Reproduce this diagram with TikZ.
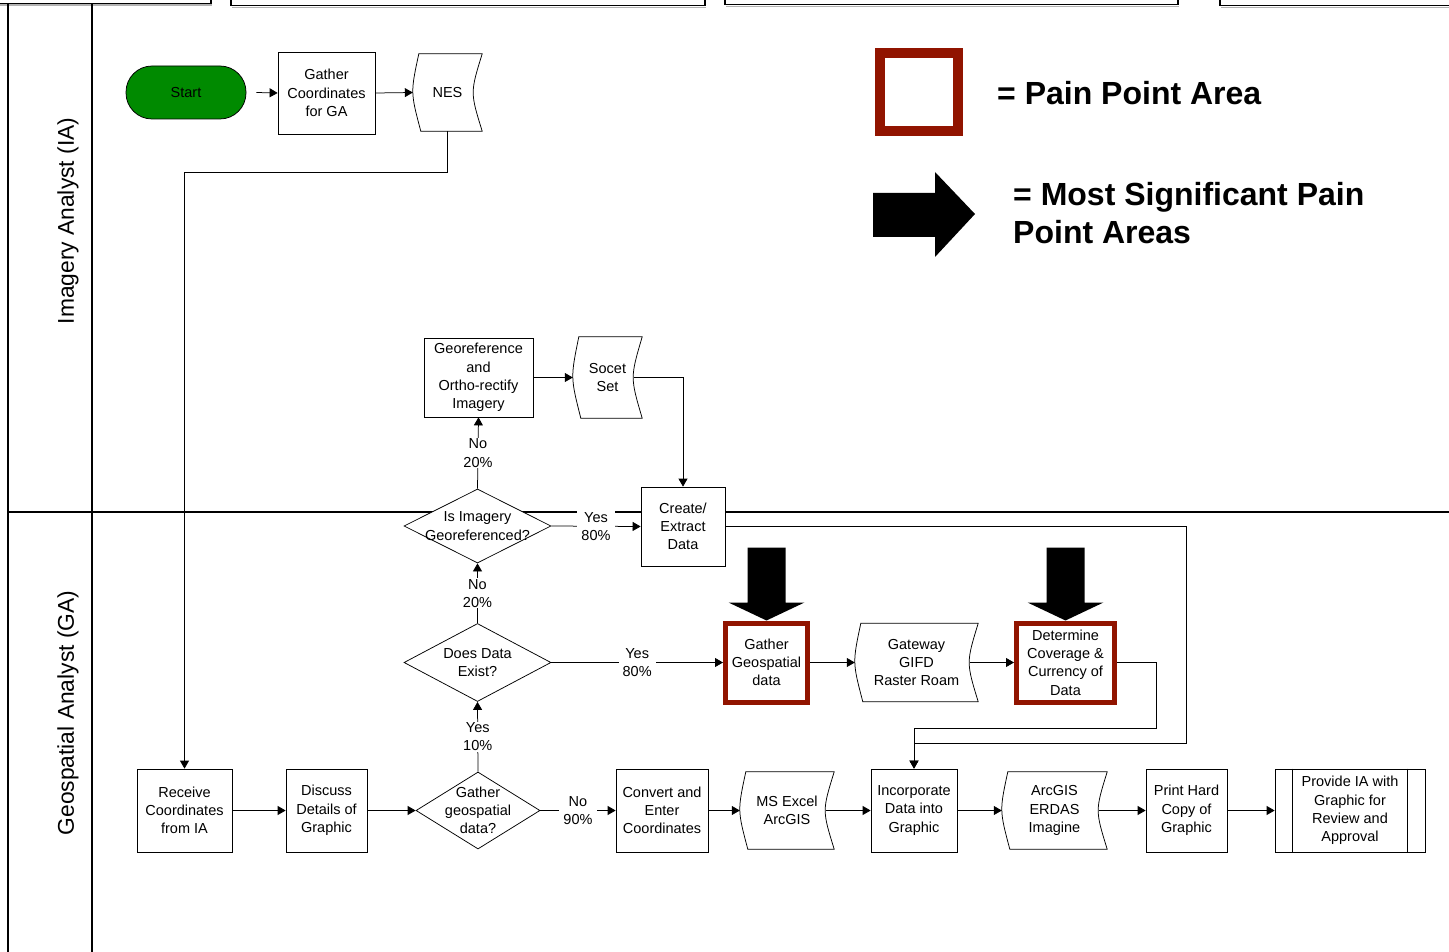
\documentclass[tikz,border=0pt]{standalone}
\usepackage{fontspec}
\setmainfont{Liberation Sans}
\usetikzlibrary{shapes.geometric,arrows.meta,calc,backgrounds}
\definecolor{painred}{RGB}{145,20,0}
\definecolor{startgreen}{RGB}{0,138,0}
\newcommand\wavyshape[1]{%
  \draw[line width=0.75pt, fill=white] ($(#1.north west)+(6,0)$) -- (#1.north east)
    .. controls ($(#1.east)+(-12,0)$) .. (#1.south east)
    -- ($(#1.south west)+(8,0)$)
    .. controls ($(#1.west)+(-2.3,0)$) .. ($(#1.north west)+(6,0)$) -- cycle;}
\newcommand\painarrow[1]{%
  \fill ($(#1.north)+(-19,-73)$) -- ($(#1.north)+(19,-73)$) -- ($(#1.north)+(19,-18)$)
    -- ($(#1.north)+(38,-18)$) -- (#1.north) -- ($(#1.north)+(-38,-18)$)
    -- ($(#1.north)+(-19,-18)$) -- cycle;}
\begin{document}
\begin{tikzpicture}[x=1pt,y=-1pt,
  every node/.style={font=\fontsize{14.5}{18.3}\selectfont, align=center, inner sep=0pt},
  box/.style={draw, fill=white, line width=0.75pt},
  pain/.style={draw=painred, fill=white, line width=5pt},
  wavy/.style={},
  decide/.style={draw, fill=white, line width=0.75pt, diamond, inner sep=0pt},
  arr/.style={-{Triangle[length=8pt,width=9pt]}, line width=0.75pt},
  conn/.style={line width=0.75pt},
  lbl/.style={fill=white, inner xsep=4pt, inner ysep=1pt},
  lane/.style={line width=1.1pt},
  topbox/.style={draw, line width=1.4pt},
  lanelabel/.style={rotate=90, font=\fontsize{22.8}{27}\selectfont},
  legend/.style={font=\bfseries\fontsize{32}{38}\selectfont, align=left}
]
\useasboundingbox (0,0) rectangle (1449,952);

% top partial boxes
\draw[gray!60, line width=1.2pt] (-5,5) -- (212,5) (232,7.5) -- (706,7.5) (726,6.5) -- (1179,6.5) (1221,7.5) -- (1460,7.5);
\draw[topbox] (-5,-20) rectangle (211,3.5);
\draw[topbox] (231,-20) rectangle (705,5.5);
\draw[topbox] (725,-20) rectangle (1178,4.5);
\draw[topbox] (1220,-20) rectangle (1460,5.5);

% lanes
\coordinate (laneTL) at (8,4);
\coordinate (laneTM) at (92,4);
\coordinate (laneBL) at (8,952);
\coordinate (laneBM) at (92,952);
\coordinate (laneML) at (8,512);
\coordinate (laneMR) at (1449,512);
\draw[lane] (laneTL) -- (laneBL);
\draw[lane] (laneTM) -- (laneBM);
\draw[lane] (laneML) -- (laneMR);
\node[lanelabel] (laneIA) at (68,221) {Imagery Analyst (IA)};
\node[lanelabel] (laneGA) at (68,713) {Geospatial Analyst (GA)};

% nodes
\node[draw, fill=startgreen, line width=0.75pt, rounded corners=26pt, minimum width=120, minimum height=53] (start) at (186,92.5) {Start};
\node[box, minimum width=97, minimum height=82] (gcoord) at (326.5,93) {Gather\\Coordinates\\for GA};
\node[wavy, minimum width=69, minimum height=77] (nes) at (447.5,92.5) {};
\node[box, minimum width=109, minimum height=79] (georef) at (478.5,377.5) {Georeference\\and\\Ortho-rectify\\Imagery};
\node[wavy, minimum width=69, minimum height=81] (socet) at (607.5,377.5) {};
\node[box, minimum width=84, minimum height=79] (create) at (683,526.5) {Create/\\Extract\\Data};
\node[decide, minimum width=147, minimum height=74, label={[align=center]center:Is Imagery\\Georeferenced?}] (isimg) at (477.5,526) {};
\node[decide, minimum width=147, minimum height=78, label={[align=center]center:Does Data\\Exist?}] (dexist) at (477.5,662.5) {};
\node[decide, minimum width=124, minimum height=77, label={[align=center]center:Gather\\geospatial\\data?}] (gq) at (478,810.5) {};
\node[pain, minimum width=82, minimum height=79] (ggeo) at (766.5,662.5) {Gather\\Geospatial\\data};
\node[wavy, minimum width=123, minimum height=78] (gateway) at (916.5,662.5) {};
\node[pain, minimum width=98, minimum height=79] (determ) at (1065.5,662.5) {Determine\\Coverage \&\\Currency of\\Data};
\node[box, minimum width=95, minimum height=83] (recv) at (184.5,810.5) {Receive\\Coordinates\\from IA};
\node[box, minimum width=81, minimum height=83] (discuss) at (326.5,810.5) {Discuss\\Details of\\Graphic};
\node[box, minimum width=92, minimum height=83] (convert) at (662,810.5) {Convert and\\Enter\\Coordinates};
\node[wavy, minimum width=94, minimum height=77] (msexcel) at (787,810.5) {};
\node[box, minimum width=86, minimum height=83] (incorp) at (914,810.5) {Incorporate\\Data into\\Graphic};
\node[wavy, minimum width=105, minimum height=77] (arcgis) at (1054.5,810.5) {};
\node[box, minimum width=81, minimum height=83] (print) at (1186.5,810.5) {Print Hard\\Copy of\\Graphic};
\node[box, minimum width=150, minimum height=83] (provide) at (1350,810.5) {Provide IA with\\Graphic for\\Review and\\Approval};
\draw[conn] ($(provide.north west)+(18,0)$) -- ($(provide.south west)+(18,0)$);
\draw[conn] ($(provide.north east)+(-18,0)$) -- ($(provide.south east)+(-18,0)$);

\begin{pgfonlayer}{background}
\wavyshape{nes}
\wavyshape{socet}
\wavyshape{gateway}
\wavyshape{msexcel}
\wavyshape{arcgis}
\end{pgfonlayer}
\node at (nes) {NES};
\node at (socet) {Socet\\Set};
\node at (gateway) {Gateway\\GIFD\\Raster Roam};
\node at (msexcel) {MS Excel\\ArcGIS};
\node at (arcgis) {ArcGIS\\ERDAS\\Imagine};

% connectors
\draw[arr] ($(start.east)+(10,0)$) -- (gcoord.west);
\draw[arr] (gcoord.east) -- (nes.west);
\draw[arr] (nes.south) -- ++(0,41) -| (recv.north);
\draw[arr] (isimg.north) -- node[lbl]{No\\20\%} (georef.south);
\draw[arr] (georef.east) -- (socet.west);
\draw[arr] ($(socet.east)+(-8,0)$) -| (create.north);
\draw[arr] (isimg.east) -- node[lbl]{Yes\\80\%} (create.west);
\draw[arr] (dexist.north) -- node[lbl]{No\\20\%} (isimg.south);
\draw[arr] (dexist.east) -- node[lbl, pos=0.5]{Yes\\80\%} (ggeo.west);
\draw[arr] (gq.north) -- node[lbl]{Yes\\10\%} (dexist.south);
\draw[arr] (ggeo.east) -- (gateway.west);
\draw[arr] ($(gateway.east)+(-8,0)$) -- (determ.west);
\draw[arr] (determ.east) -- ++(39,0) |- ($(incorp.north)+(0,-40)$) -- (incorp.north);
\draw[arr] (create.east) -- ++(461,0) |- ($(incorp.north)+(0,-25)$) -- (incorp.north);
\draw[arr] (recv.east) -- (discuss.west);
\draw[arr] (discuss.east) -- (gq.west);
\draw[arr] (gq.east) -- node[lbl]{No\\90\%} (convert.west);
\draw[arr] (convert.east) -- (msexcel.west);
\draw[arr] ($(msexcel.east)+(-8,0)$) -- (incorp.west);
\draw[arr] (incorp.east) -- (arcgis.west);
\draw[arr] ($(arcgis.east)+(-8,0)$) -- (print.west);
\draw[arr] (print.east) -- (provide.west);

% pain arrows
\painarrow{ggeo}
\painarrow{determ}

% legend
\node[draw=painred, line width=10pt, minimum width=78, minimum height=78] (legsq) at (919,92) {};
\node[legend, anchor=west] (legtxt) at (997,93) {= Pain Point Area};
\fill (873,193) -- (935,193) -- (935,172) -- (975,214) -- (935,257) -- (935,237) -- (873,237) -- cycle;
\node[legend, anchor=west] (legtxt2) at (1013,213) {= Most Significant Pain\\Point Areas};
\end{tikzpicture}
\end{document}
